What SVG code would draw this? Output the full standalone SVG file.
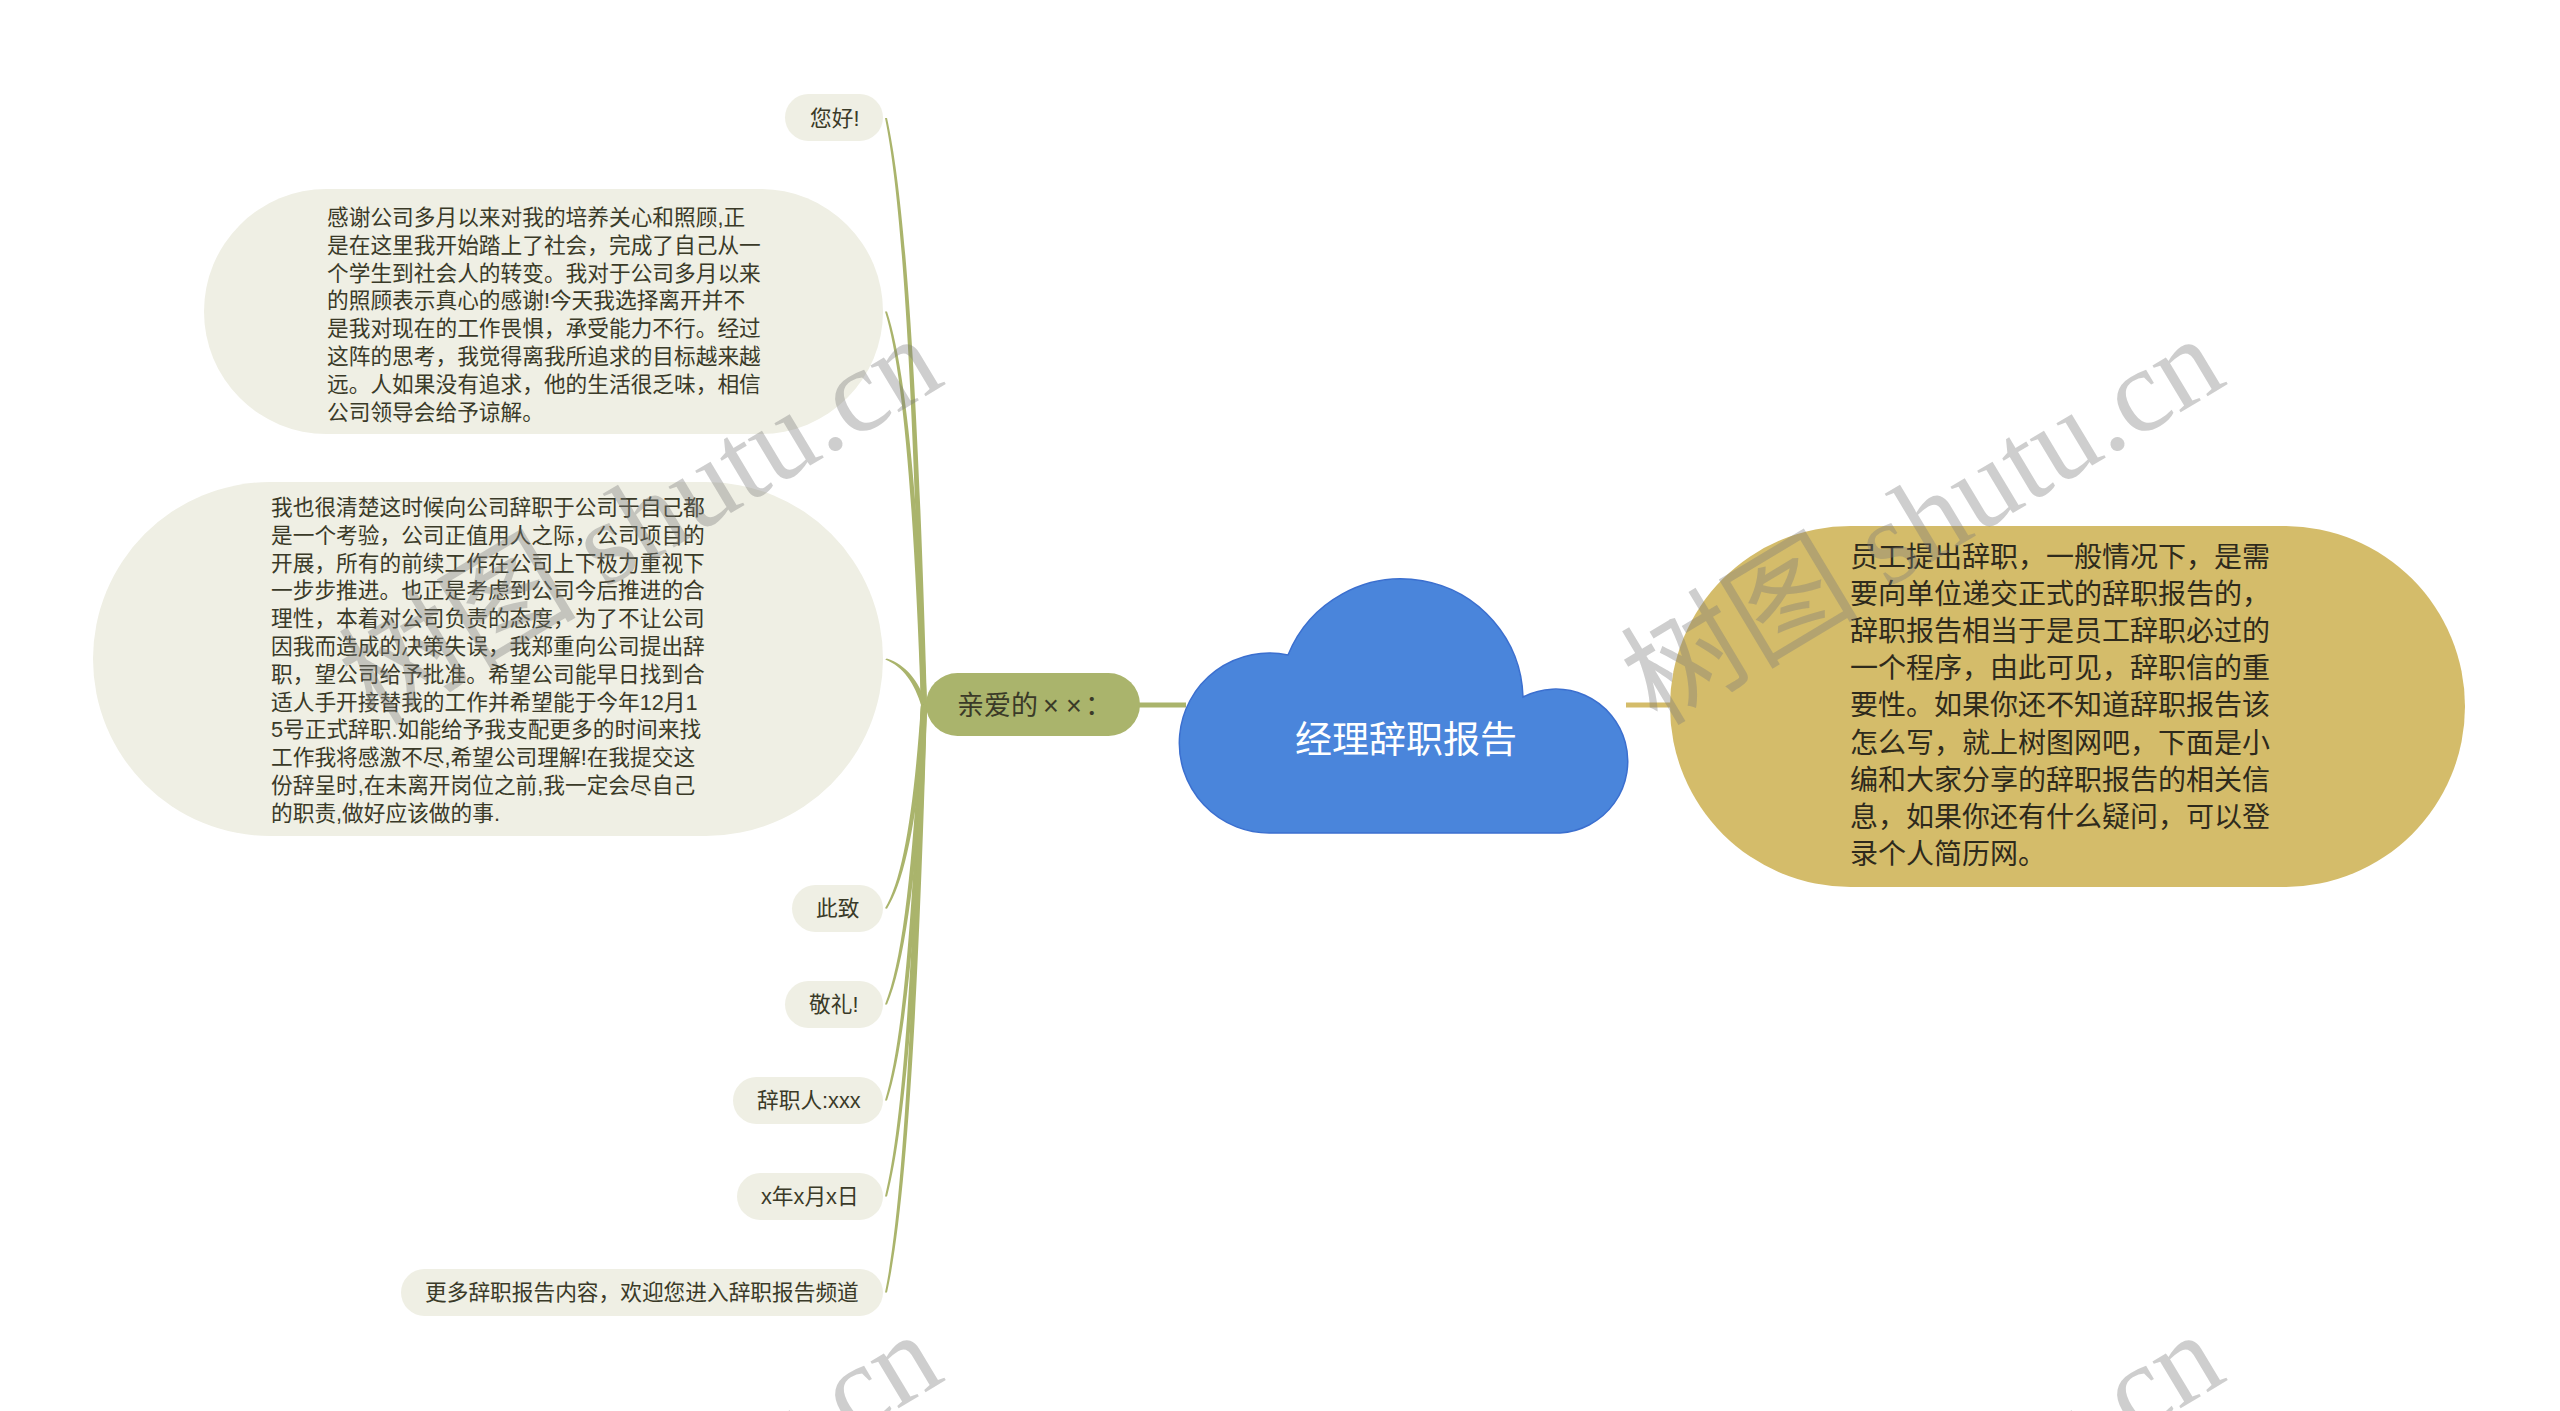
<svg xmlns="http://www.w3.org/2000/svg" width="2560" height="1411" viewBox="0 0 2560 1411">
<style>
.bg{fill:#ffffff}
.leaf{fill:#efefe4}
.t{font-family:"Liberation Sans","Noto Sans CJK SC",sans-serif;fill:#3a3a28}
.s{font-size:21.7px}
.g{font-size:28px;fill:#2e2a1c}
.c{fill:#aab46c}
.wm{font-family:"Liberation Serif","Noto Sans CJK SC",serif;font-size:119px;fill:#7a7a7a;fill-opacity:0.37}
</style>
<rect class="bg" x="0" y="0" width="2560" height="1411"/>
<g id="connectors">
<line x1="1138" y1="705" x2="1186" y2="705" stroke="#aab46c" stroke-width="5"/>
<line x1="1626" y1="705" x2="1674" y2="705" stroke="#d4bc6a" stroke-width="5"/>
<path class="c" d="M887,117.9 C906.7,205.9 918.7,411.4 927,704.8 L921,705.2 C914.1,411.7 903.3,206.2 885,118.1 Z"/>
<path class="c" d="M887,311.4 C906.7,370.3 918.7,508 927,704.7 L921,705.3 C914.1,508.5 903.3,370.7 885,311.6 Z"/>
<path class="c" d="M886.8,658.4 C906.3,664.8 918.2,680.5 926.3,703.1 L921.7,706.9 C914.6,683.5 903.7,667 885.2,659.6 Z"/>
<path class="c" d="M885,908.3 C903.4,877.7 914.1,806.3 921,704.4 L927,705.6 C918.7,807.2 906.6,878.3 887,908.7 Z"/>
<path class="c" d="M885,1004.4 C903.4,959.4 914.1,854.5 921,704.6 L927,705.4 C918.7,855 906.6,959.8 887,1004.6 Z"/>
<path class="c" d="M885,1100.4 C903.3,1041 914.1,902.5 921,704.7 L927,705.3 C918.7,903 906.7,1041.4 887,1100.6 Z"/>
<path class="c" d="M885,1196.4 C903.3,1122.7 914.1,950.6 921,704.8 L927,705.2 C918.7,950.9 906.7,1122.9 887,1196.6 Z"/>
<path class="c" d="M885,1292.4 C903.3,1204.3 914.1,998.6 921,704.8 L927,705.2 C918.7,998.9 906.7,1204.5 887,1292.6 Z"/>
</g>
<g id="node-root">
<path d="M1272,833 A90,90 0 1 1 1288,655 A122,122 0 0 1 1523,697 A72,72 0 1 1 1560,833 Z" fill="#4a85db" stroke="#3b6fcf" stroke-width="1.5"/>
<text x="1406" y="753" text-anchor="middle" font-family="Liberation Sans,'Noto Sans CJK SC',sans-serif" font-size="37" fill="#ffffff">经理辞职报告</text>
</g>
<g id="node-intro">
<rect x="1670" y="526" width="795" height="361" rx="180.5" ry="180.5" fill="#d4bc6a"/>
<text class="t g" x="1850"><tspan x="1850" y="567">员工提出辞职，一般情况下，是需</tspan><tspan x="1850" y="604.1">要向单位递交正式的辞职报告的，</tspan><tspan x="1850" y="641.2">辞职报告相当于是员工辞职必过的</tspan><tspan x="1850" y="678.3">一个程序，由此可见，辞职信的重</tspan><tspan x="1850" y="715.4">要性。如果你还不知道辞职报告该</tspan><tspan x="1850" y="752.5">怎么写，就上树图网吧，下面是小</tspan><tspan x="1850" y="789.6">编和大家分享的辞职报告的相关信</tspan><tspan x="1850" y="826.7">息，如果你还有什么疑问，可以登</tspan><tspan x="1850" y="863.8">录个人简历网。</tspan></text>
</g>
<g id="node-dear">
<rect x="926" y="673" width="214" height="63" rx="31.5" fill="#aab46c"/>
<text class="t" y="715" font-size="27" fill="#2f2f1f"><tspan x="957">亲爱的</tspan><tspan x="1043">×</tspan><tspan x="1066">×</tspan><tspan x="1085">：</tspan></text>
</g>
<g id="node-hello">
<rect class="leaf" x="785" y="94" width="98" height="47" rx="23.5"/>
<text class="t s" x="810" y="125.5">您好!</text>
</g>
<g id="node-para1">
<rect class="leaf" x="204" y="189" width="679" height="245" rx="122.5"/>
<text class="t s"><tspan x="327" y="225">感谢公司多月以来对我的培养关心和照顾,正</tspan><tspan x="327" y="252.8">是在这里我开始踏上了社会，完成了自己从一</tspan><tspan x="327" y="280.6">个学生到社会人的转变。我对于公司多月以来</tspan><tspan x="327" y="308.4">的照顾表示真心的感谢!今天我选择离开并不</tspan><tspan x="327" y="336.2">是我对现在的工作畏惧，承受能力不行。经过</tspan><tspan x="327" y="364">这阵的思考，我觉得离我所追求的目标越来越</tspan><tspan x="327" y="391.8">远。人如果没有追求，他的生活很乏味，相信</tspan><tspan x="327" y="419.6">公司领导会给予谅解。</tspan></text>
</g>
<g id="node-para2">
<rect class="leaf" x="93" y="482" width="790" height="354" rx="177"/>
<text class="t s"><tspan x="271" y="515">我也很清楚这时候向公司辞职于公司于自己都</tspan><tspan x="271" y="542.8">是一个考验，公司正值用人之际，公司项目的</tspan><tspan x="271" y="570.6">开展，所有的前续工作在公司上下极力重视下</tspan><tspan x="271" y="598.4">一步步推进。也正是考虑到公司今后推进的合</tspan><tspan x="271" y="626.2">理性，本着对公司负责的态度，为了不让公司</tspan><tspan x="271" y="654">因我而造成的决策失误，我郑重向公司提出辞</tspan><tspan x="271" y="681.8">职，望公司给予批准。希望公司能早日找到合</tspan><tspan x="271" y="709.6">适人手开接替我的工作并希望能于今年12月1</tspan><tspan x="271" y="737.4">5号正式辞职.如能给予我支配更多的时间来找</tspan><tspan x="271" y="765.2">工作我将感激不尽,希望公司理解!在我提交这</tspan><tspan x="271" y="793">份辞呈时,在未离开岗位之前,我一定会尽自己</tspan><tspan x="271" y="820.8">的职责,做好应该做的事.</tspan></text>
</g>
<g id="node-cizhi">
<rect class="leaf" x="792" y="885" width="91" height="47" rx="23.5"/>
<text class="t s" x="816" y="916.3">此致</text>
</g>
<g id="node-jingli">
<rect class="leaf" x="785" y="981" width="98" height="47" rx="23.5"/>
<text class="t s" x="809" y="1012.3">敬礼!</text>
</g>
<g id="node-signer">
<rect class="leaf" x="733" y="1077" width="150" height="47" rx="23.5"/>
<text class="t s" x="757" y="1108.3">辞职人:xxx</text>
</g>
<g id="node-date">
<rect class="leaf" x="737" y="1173" width="146" height="47" rx="23.5"/>
<text class="t s" x="761" y="1204.3">x年x月x日</text>
</g>
<g id="node-more">
<rect class="leaf" x="401" y="1269" width="482" height="47" rx="23.5"/>
<text class="t s" x="425" y="1300.3">更多辞职报告内容，欢迎您进入辞职报告频道</text>
</g>
<g id="watermarks">
<text class="wm" transform="translate(1657,727) rotate(-31)">树图 shutu.cn</text>
<text class="wm" transform="translate(375,727) rotate(-31)">树图 shutu.cn</text>
<text class="wm" transform="translate(1657,1723) rotate(-31)">树图 shutu.cn</text>
<text class="wm" transform="translate(375,1723) rotate(-31)">树图 shutu.cn</text>
</g>
</svg>
